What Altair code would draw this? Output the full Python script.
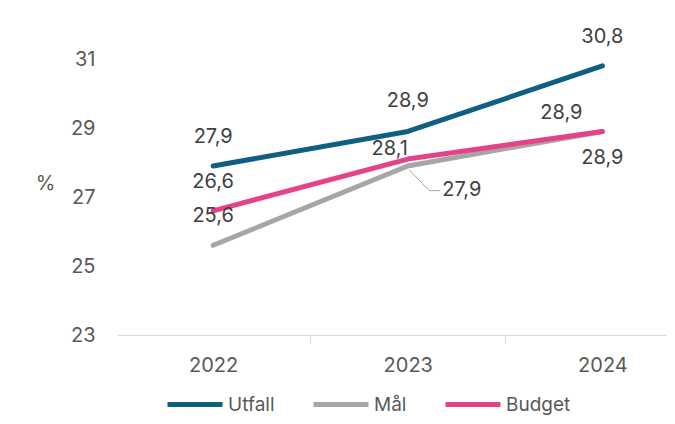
import altair as alt
import pandas as pd

# ---- data ----
years = [2022, 2023, 2024]
utfall = [27.9, 28.9, 30.8]
maal = [25.6, 27.9, 28.9]
budget = [26.6, 28.1, 28.9]
series_names = ["Utfall", "Mål", "Budget"]
series_values = [utfall, maal, budget]
y_tick_values = [23, 25, 27, 29, 31]
x_band_edges = [2021.5, 2022.5, 2023.5]

# ---- styles ----
series_colors = ["#0E5F82", "#A6A6A6", "#E6428A"]
FONT = "Inter"
FS = 20
AXIS_GRAY = "#595959"
LABEL_GRAY = "#404040"
# label offsets in pixels (dx, dy) per series, per year
label_offsets = {
    "Utfall": [(0, -29), (0, -30), (0, -29)],
    "Mål": [(0, -29), (54, 24), (0, 27)],
    "Budget": [(0, -29), (-18, -10), (-41, -18)],
}

rows = []
for name, vals in zip(series_names, series_values):
    for yr, v in zip(years, vals):
        rows.append({"series": name, "year": yr, "value": v})
df = pd.DataFrame(rows)

x_enc = alt.X(
    "year:Q",
    scale=alt.Scale(domain=[2021.506, 2024.332], nice=False, zero=False),
    axis=alt.Axis(
        values=x_band_edges + years,
        title=None,
        grid=False,
        domain=True,
        domainColor="#D9D9D9",
        domainWidth=1,
        ticks=True,
        tickColor="#D9D9D9",
        tickSize=8,
        tickOpacity={"condition": {"test": "datum.value % 1 != 0", "value": 1}, "value": 0},
        labelExpr="datum.value % 1 == 0 ? '' + datum.value : ''",
        labelFont=FONT,
        labelFontSize=FS,
        labelColor=AXIS_GRAY,
        labelPadding=12,
        labelOverlap=False,
        labelFlush=False,
    ),
)
y_enc = alt.Y(
    "value:Q",
    scale=alt.Scale(domain=[23, 32], nice=False, zero=False),
    axis=alt.Axis(
        values=y_tick_values,
        title="%",
        titleAngle=0,
        titleX=-72,
        titleY=158.5,
        titleAlign="center",
        titleBaseline="middle",
        titleFont=FONT,
        titleFontSize=FS,
        titleFontWeight="normal",
        titleColor=AXIS_GRAY,
        grid=False,
        domain=False,
        ticks=False,
        labelFont=FONT,
        labelFontSize=FS,
        labelColor=AXIS_GRAY,
        labelPadding=22,
    ),
)
color_enc = alt.Color(
    "series:N",
    scale=alt.Scale(domain=series_names, range=series_colors),
    legend=alt.Legend(
        orient="none",
        legendX=48,
        legendY=350,
        direction="horizontal",
        title=None,
        symbolType="stroke",
        symbolSize=3025,
        symbolStrokeWidth=5,
        labelFont=FONT,
        labelFontSize=19,
        labelColor=AXIS_GRAY,
        labelOffset=3,
        columnPadding=28,
    ),
)

base = alt.Chart(df)
layers = []
for name in ["Mål", "Utfall", "Budget"]:
    layers.append(
        base.transform_filter(alt.datum.series == name)
        .mark_line(strokeWidth=5, strokeCap="round", strokeJoin="round")
        .encode(x=x_enc, y=y_enc, color=color_enc)
    )

# leader line for Mål 2023 label
leader = base.transform_filter((alt.datum.series == "Mål") & (alt.datum.year == 2023))
layers.append(
    leader.mark_rule(color="#A6A6A6", strokeWidth=1, xOffset=1.5, yOffset=4, x2Offset=21.5, y2Offset=24.7)
    .encode(x=x_enc, y=y_enc, x2="year:Q", y2="value:Q")
)
layers.append(
    leader.mark_rule(color="#A6A6A6", strokeWidth=1, xOffset=21.5, yOffset=24.7, x2Offset=32.5, y2Offset=24.7)
    .encode(x=x_enc, y=y_enc, x2="year:Q", y2="value:Q")
)

for name in series_names:
    for i, yr in enumerate(years):
        dx, dy = label_offsets[name][i]
        layers.append(
            base.transform_filter((alt.datum.series == name) & (alt.datum.year == yr))
            .transform_calculate(lbl="replace(format(datum.value, '.1f'), '.', ',')")
            .mark_text(dx=dx, dy=dy, align="center", baseline="middle", font=FONT, fontSize=FS, color=LABEL_GRAY)
            .encode(x=x_enc, y=y_enc, text="lbl:N")
        )

chart = (
    alt.layer(*layers)
    .properties(
        width=550,
        height=310.5,
        autosize=alt.AutoSizeParams(type="none"),
        padding={"left": 109, "top": 16.5, "right": 0, "bottom": 81},
        background="white",
    )
    .configure_view(stroke=None)
)

chart.save("out.html", embed_options={"renderer": "svg", "actions": False})
